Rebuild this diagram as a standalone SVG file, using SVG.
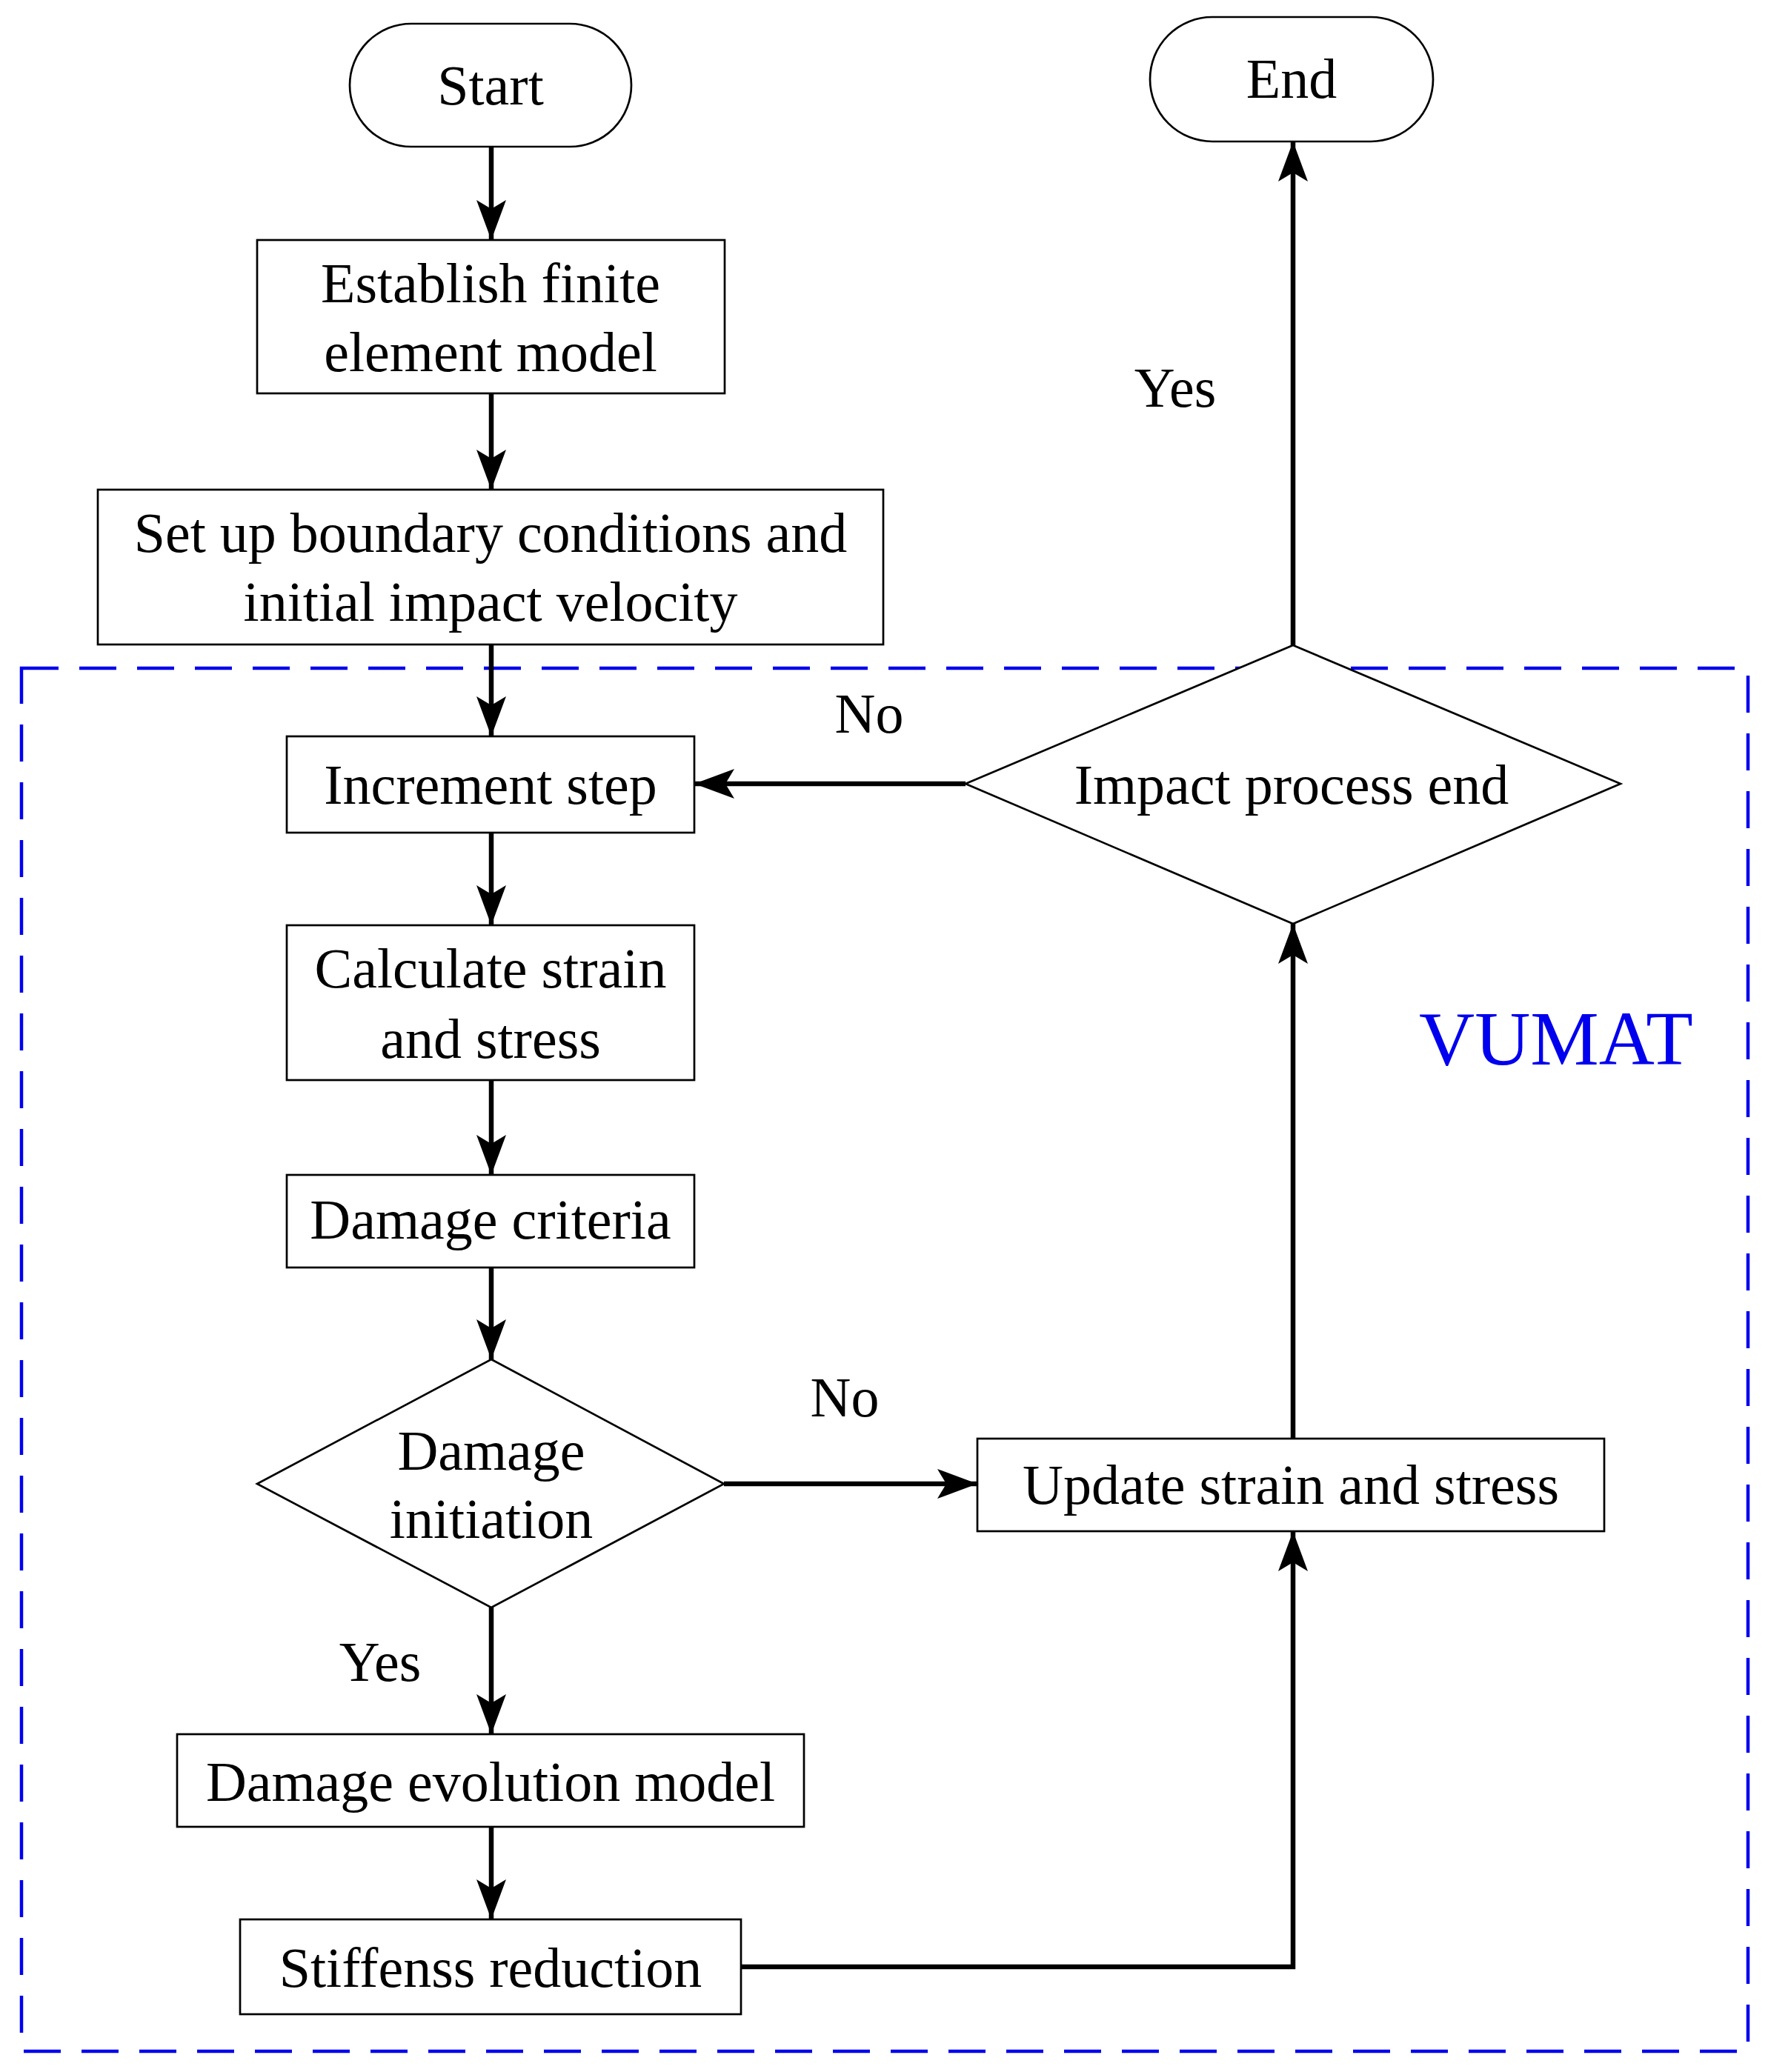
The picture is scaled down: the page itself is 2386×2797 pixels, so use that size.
<svg xmlns="http://www.w3.org/2000/svg" width="2386" height="2797" viewBox="0 0 2386 2797">
<style>
.n{fill:#fff;stroke:#000;stroke-width:2.7}
.t{font-family:"Liberation Serif",serif;font-size:76px;text-anchor:middle;fill:#000}
.c{fill:none;stroke:#000;stroke-width:6.5}
</style>
<defs>
<marker id="a" markerUnits="userSpaceOnUse" markerWidth="60" markerHeight="40" refX="54" refY="20" orient="auto">
<path d="M0,0 L54,20 L0,40 L12,20 Z" fill="#000"/>
</marker>
</defs>
<rect width="2386" height="2797" fill="#fff"/>
<rect x="29" y="902" width="2330" height="1867" fill="none" stroke="#0000ee" stroke-width="4.5" stroke-dasharray="50,28"/>
<text x="2100" y="1437" style="font-family:'Liberation Serif',serif;font-size:104px;fill:#0000ee;text-anchor:middle">VUMAT</text>
<g id="connectors">
<line class="c" x1="663" y1="198" x2="663" y2="324" marker-end="url(#a)"/>
<line class="c" x1="663" y1="531" x2="663" y2="661" marker-end="url(#a)"/>
<line class="c" x1="663" y1="870" x2="663" y2="994" marker-end="url(#a)"/>
<line class="c" x1="663" y1="1124" x2="663" y2="1249" marker-end="url(#a)"/>
<line class="c" x1="663" y1="1458" x2="663" y2="1586" marker-end="url(#a)"/>
<line class="c" x1="663" y1="1711" x2="663" y2="1835" marker-end="url(#a)"/>
<line class="c" x1="663" y1="2170" x2="663" y2="2341" marker-end="url(#a)"/>
<line class="c" x1="663" y1="2466" x2="663" y2="2591" marker-end="url(#a)"/>
<line class="c" x1="977" y1="2003" x2="1319" y2="2003" marker-end="url(#a)"/>
<polyline class="c" points="1000,2655 1745,2655 1745,2067" marker-end="url(#a)"/>
<line class="c" x1="1745" y1="1942" x2="1745" y2="1247" marker-end="url(#a)"/>
<line class="c" x1="1745" y1="871" x2="1745" y2="191" marker-end="url(#a)"/>
<line class="c" x1="1303" y1="1058" x2="937" y2="1058" marker-end="url(#a)"/>
<text class="t" x="1586" y="549">Yes</text>
<text class="t" x="1173" y="989">No</text>
<text class="t" x="1140" y="1912">No</text>
<text class="t" x="513" y="2269">Yes</text>
</g>
<g id="start"><rect class="n" x="472" y="32" width="380" height="166" rx="83"/><text class="t" x="662" y="141">Start</text></g>
<g id="end"><rect class="n" x="1552" y="23" width="382" height="168" rx="84"/><text class="t" x="1743" y="132">End</text></g>
<g id="establish"><rect class="n" x="347" y="324" width="631" height="207"/><text class="t" x="662" y="408">Establish finite</text><text class="t" x="662" y="501">element model</text></g>
<g id="setup"><rect class="n" x="132" y="661" width="1060" height="209"/><text class="t" x="662" y="745">Set up boundary conditions and</text><text class="t" x="662" y="838">initial impact velocity</text></g>
<g id="increment"><rect class="n" x="387" y="994" width="550" height="130"/><text class="t" x="662" y="1085">Increment step</text></g>
<g id="calculate"><rect class="n" x="387" y="1249" width="550" height="209"/><text class="t" x="662" y="1333">Calculate strain</text><text class="t" x="662" y="1428">and stress</text></g>
<g id="criteria"><rect class="n" x="387" y="1586" width="550" height="125"/><text class="t" x="662" y="1672">Damage criteria</text></g>
<g id="initiation"><polygon class="n" points="663,1835 977,2003 663,2170 347,2003"/><text class="t" x="663" y="1984">Damage</text><text class="t" x="663" y="2076">initiation</text></g>
<g id="evolution"><rect class="n" x="239" y="2341" width="846" height="125"/><text class="t" x="662" y="2431">Damage evolution model</text></g>
<g id="stiffness"><rect class="n" x="324" y="2591" width="676" height="128"/><text class="t" x="662" y="2682">Stiffenss reduction</text></g>
<g id="update"><rect class="n" x="1319" y="1942" width="846" height="125"/><text class="t" x="1742" y="2030">Update strain and stress</text></g>
<g id="impact"><polygon class="n" points="1745,871 2187,1058 1745,1247 1303,1058"/><text class="t" x="1743" y="1085">Impact process end</text></g>
</svg>
